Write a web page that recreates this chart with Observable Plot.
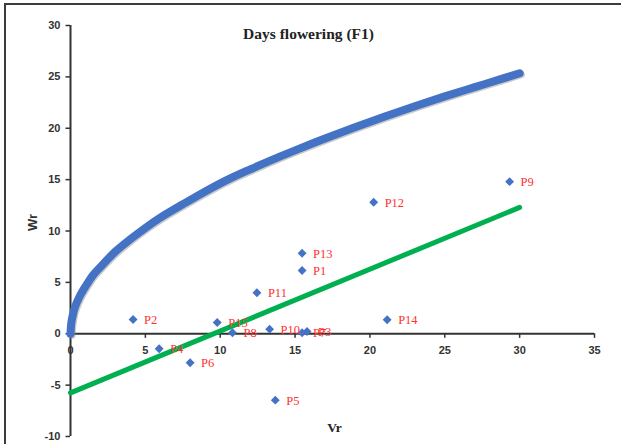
<!DOCTYPE html>
<html>
<head>
<meta charset="utf-8">
<script src="https://cdn.jsdelivr.net/npm/d3@7"></script>
<script src="https://cdn.jsdelivr.net/npm/@observablehq/plot@0.6"></script>
<style>
  html, body { margin: 0; padding: 0; background: #fff; overflow: hidden; }
  #wrap { position: relative; width: 621px; height: 444px; overflow: hidden; background: #fff; }
  #frame { position: absolute; left: 4px; top: 3px; width: 700px; height: 600px; border: 2px solid #3c3c3c; box-sizing: border-box; pointer-events: none; }
  #chart { position: absolute; left: 0; top: 0; }
</style>
</head>
<body>
<div id="wrap"><div id="chart"></div><div id="frame"></div></div>
<script>
// Parent points (Vr, Wr)
const labels = ["P1","P2","P3","P4","P5","P6","P7","P8","P9","P10","P11","P12","P13","P14","P15"];
const vr = [15.47, 4.18, 15.8, 5.92, 13.68, 7.99, 15.47, 10.82, 29.33, 13.3, 12.45, 20.25, 15.47, 21.15, 9.8];
const wr = [6.16, 1.39, 0.22, -1.46, -6.46, -2.82, 0.1, 0.1, 14.8, 0.45, 3.99, 12.8, 7.84, 1.36, 1.1];

// Limiting parabola
const curveVr = [0, 0.05, 0.15, 0.3, 0.6, 1, 1.5, 2, 3, 4, 5, 6, 7.5, 9, 10.5, 12, 13.5, 15, 17, 19, 21, 23, 25, 27, 29, 30];
const curveWr = [0, 1.0, 1.8, 2.6, 3.6, 4.6, 5.7, 6.5, 8.0, 9.2, 10.3, 11.3, 12.6, 13.85, 15.0, 16.0, 16.95, 17.85, 19.0, 20.1, 21.15, 22.15, 23.1, 24.0, 24.9, 25.35];

// Regression line
const regVr = [0, 30];
const regWr = [-5.75, 12.3];

// Ticks
const xTicks = [0, 5, 10, 15, 20, 25, 30, 35];
const yTicks = [-10, -5, 0, 5, 10, 15, 20, 25, 30];

const title = "Days flowering (F1)";
const xLabel = "Vr";
const yLabel = "Wr";

const points = labels.map((l, i) => ({label: l, x: vr[i], y: wr[i]}));
const curve = curveVr.map((x, i) => ({x, y: curveWr[i]}));
const reg = regVr.map((x, i) => ({x, y: regWr[i]}));

const tickFont = "Liberation Sans, Arial, sans-serif";
const serif = "Liberation Serif, Times New Roman, serif";

const chart = Plot.plot({
  width: 621,
  height: 444,
  marginLeft: 70,
  marginRight: 27,
  marginTop: 25,
  marginBottom: 8,
  x: {domain: [0, 35], axis: null},
  y: {domain: [-10, 30], axis: null},
  style: {background: "transparent", overflow: "visible"},
  marks: [
    // axes
    Plot.ruleX([0], {y1: -10, y2: 30, stroke: "#333", strokeWidth: 2}),
    Plot.ruleY([0], {x1: 0, x2: 35, stroke: "#333", strokeWidth: 2}),
    Plot.ruleY(yTicks, {y: d => d, x1: 0, x2: -0.3, stroke: "#333", strokeWidth: 1.5}),
    Plot.ruleX(xTicks.filter(d => d !== 0), {x: d => d, y1: 0, y2: -0.45, stroke: "#333", strokeWidth: 1.5}),
    Plot.text(yTicks, {x: 0, y: d => d, text: d => String(d), dx: -10, textAnchor: "end", fontSize: 11, fontWeight: "bold", fontFamily: tickFont, fill: "#333"}),
    Plot.text(xTicks, {x: d => d, y: 0, text: d => String(d), dy: 17, fontSize: 11, fontWeight: "bold", fontFamily: tickFont, fill: "#333"}),
    // limiting parabola with shadow
    Plot.line(curve, {x: "x", y: "y", stroke: "#8a8a8a", strokeWidth: 8, strokeOpacity: 0.45, dx: 1.2, dy: 1.2, strokeLinecap: "round", curve: "catmull-rom"}),
    Plot.line(curve, {x: "x", y: "y", stroke: "#4472c4", strokeWidth: 8, strokeLinecap: "round", curve: "catmull-rom"}),
    // points
    Plot.dot(points, {x: "x", y: "y", symbol: "diamond2", r: 4, fill: "#4472c4", stroke: "none"}),
    // regression line
    Plot.line(reg, {x: "x", y: "y", stroke: "#00b050", strokeWidth: 5}),
    Plot.text(points, {x: "x", y: "y", text: "label", dx: 11, dy: 0.5, textAnchor: "start", fontSize: 12.5, fontFamily: serif, fill: "#ff3030"}),
    // titles
    Plot.text([title], {frameAnchor: "top", dx: -24, dy: 2, fontSize: 15.5, fontWeight: "bold", fontFamily: serif, fill: "#222"}),
    Plot.text([xLabel], {frameAnchor: "bottom", dx: 2, dy: -5, fontSize: 13.5, fontWeight: "bold", fontFamily: serif, fill: "#222"}),
    Plot.text([yLabel], {frameAnchor: "left", dx: -38, dy: 0, rotate: -90, fontSize: 13, fontWeight: "bold", fontFamily: tickFont, fill: "#333"})
  ]
});
document.getElementById("chart").appendChild(chart);
</script>
</body>
</html>
